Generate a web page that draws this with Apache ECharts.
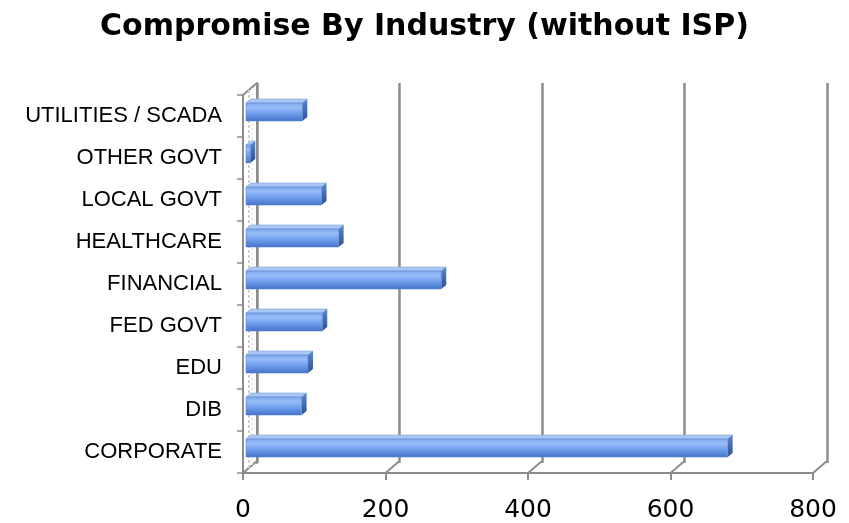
<!DOCTYPE html>
<html>
<head>
<meta charset="utf-8">
<script src="https://cdn.jsdelivr.net/npm/echarts@6/dist/echarts.min.js"></script>
<style>
  html, body { margin: 0; padding: 0; background: #fff; }
  #chart { width: 849px; height: 523px; }
</style>
</head>
<body>
<div id="chart"></div>
<script>
// Industries, top to bottom
const categories = [
  'UTILITIES / SCADA',
  'OTHER GOVT',
  'LOCAL GOVT',
  'HEALTHCARE',
  'FINANCIAL',
  'FED GOVT',
  'EDU',
  'DIB',
  'CORPORATE'
];
// Number of compromises per industry
const compromises = [79, 6, 106, 130, 274, 107, 87, 78, 676];
// Value axis ticks
const xTicks = [0, 200, 400, 600, 800];

// Pseudo-3D depth of the plot box and of the bars
const DEPTH = { x: 14, y: 12 };
const BAR_DEPTH = { x: 5, y: 4 };
const GRID_COLOR = '#8c8c8c';

const chart = echarts.init(document.getElementById('chart'));

const front = { left: 243, right: 36, top: 95, bottom: 48 };
const back = {
  left: front.left + DEPTH.x,
  right: front.right - DEPTH.x,
  top: front.top - DEPTH.y,
  bottom: front.bottom + DEPTH.y
};

// Floor diagonals at each tick plus the left wall edges
function renderFrame(params, api) {
  const cs = params.coordSys;
  const x = api.coord([api.value(0), 0])[0];
  const yb = cs.y + cs.height;
  const children = [{
    type: 'line',
    shape: { x1: x, y1: yb, x2: x + DEPTH.x, y2: yb - DEPTH.y },
    style: { stroke: GRID_COLOR, lineWidth: 2 }
  }];
  if (params.dataIndex === 0) {
    children.push({
      type: 'line',
      shape: { x1: cs.x, y1: cs.y, x2: cs.x + DEPTH.x, y2: cs.y - DEPTH.y },
      style: { stroke: GRID_COLOR, lineWidth: 2 }
    });
    children.push({
      type: 'line',
      shape: { x1: cs.x + 6, y1: cs.y - 5, x2: cs.x + 6, y2: yb - 5 },
      style: { stroke: '#cfcfcf', lineWidth: 2, lineDash: [3, 2] }
    });
    children.push({
      type: 'line',
      shape: { x1: cs.x + 9, y1: cs.y - 7, x2: cs.x + 9, y2: yb - 7 },
      style: { stroke: '#e2e2e2', lineWidth: 1.5, lineDash: [2, 3] }
    });
  }
  return { type: 'group', children: children };
}

// Bars with a front face, top face and end cap
function renderBar(params, api) {
  const i = api.value(1);
  const v = api.value(0);
  const end = api.coord([v, i]);
  const start = api.coord([0, i]);
  const x0 = start[0] + 3;
  const x1 = end[0] + 3;
  const yTop = end[1] - 13;
  const h = 18;
  const dx = BAR_DEPTH.x, dy = BAR_DEPTH.y;
  return {
    type: 'group',
    children: [
      {
        type: 'polygon',
        shape: { points: [[x0, yTop], [x0 + dx, yTop - dy], [x1 + dx, yTop - dy], [x1, yTop]] },
        style: { fill: '#a9c8f4', stroke: '#7fa3dc', lineWidth: 0.6 }
      },
      {
        type: 'polygon',
        shape: { points: [[x1, yTop], [x1 + dx, yTop - dy], [x1 + dx, yTop + h - dy], [x1, yTop + h]] },
        style: {
          fill: new echarts.graphic.LinearGradient(0, 0, 0, 1, [
            { offset: 0, color: '#5a86d2' },
            { offset: 1, color: '#2c4f94' }
          ])
        }
      },
      {
        type: 'rect',
        shape: { x: x0, y: yTop, width: Math.max(x1 - x0, 0.5), height: h },
        style: {
          fill: new echarts.graphic.LinearGradient(0, 0, 0, 1, [
            { offset: 0, color: '#7aa5ec' },
            { offset: 0.25, color: '#97bdf8' },
            { offset: 0.55, color: '#74a1ee' },
            { offset: 1, color: '#4272c9' }
          ]),
          stroke: '#5f88cf',
          lineWidth: 0.6
        }
      }
    ]
  };
}

chart.setOption({
  animation: false,
  backgroundColor: '#ffffff',
  title: {
    text: 'Compromise By Industry (without ISP)',
    left: 'center',
    top: 7,
    textStyle: {
      fontFamily: 'DejaVu Sans',
      fontWeight: 'bold',
      fontSize: 30,
      color: '#000'
    }
  },
  grid: [
    Object.assign({ containLabel: false }, front),
    Object.assign({ containLabel: false }, back)
  ],
  xAxis: [
    {
      type: 'value', gridIndex: 0, min: 0, max: 800, interval: 200,
      axisLine: { show: true, lineStyle: { color: GRID_COLOR, width: 2 } },
      axisTick: { show: true, length: 7, lineStyle: { color: GRID_COLOR, width: 2 } },
      axisLabel: {
        margin: 25,
        fontFamily: 'DejaVu Sans',
        fontSize: 25,
        color: '#000'
      },
      splitLine: { show: false }
    },
    {
      type: 'value', gridIndex: 1, min: 0, max: 800, interval: 200,
      axisLine: { show: false },
      axisTick: { show: false },
      axisLabel: { show: false },
      splitLine: { show: true, lineStyle: { color: GRID_COLOR, width: 2.5 } }
    }
  ],
  yAxis: [
    {
      type: 'category', gridIndex: 0, data: categories, inverse: true,
      axisLine: { show: true, lineStyle: { color: GRID_COLOR, width: 2 } },
      axisTick: { show: true, length: 6, lineStyle: { color: GRID_COLOR, width: 1.5 } },
      axisLabel: {
        margin: 21,
        fontFamily: 'Liberation Sans',
        fontSize: 22,
        color: '#000'
      }
    },
    {
      type: 'category', gridIndex: 1, data: categories, inverse: true,
      axisLine: { show: true, lineStyle: { color: GRID_COLOR, width: 2 } },
      axisTick: { show: false },
      axisLabel: { show: false }
    }
  ],
  series: [
    {
      type: 'custom',
      xAxisIndex: 0, yAxisIndex: 0,
      renderItem: renderFrame,
      data: xTicks.map(function (v) { return [v, 0]; }),
      z: 1,
      silent: true
    },
    {
      type: 'custom',
      xAxisIndex: 0, yAxisIndex: 0,
      renderItem: renderBar,
      encode: { x: 0, y: 1 },
      data: compromises.map(function (v, i) { return [v, i]; }),
      z: 5
    }
  ]
});
</script>
</body>
</html>
